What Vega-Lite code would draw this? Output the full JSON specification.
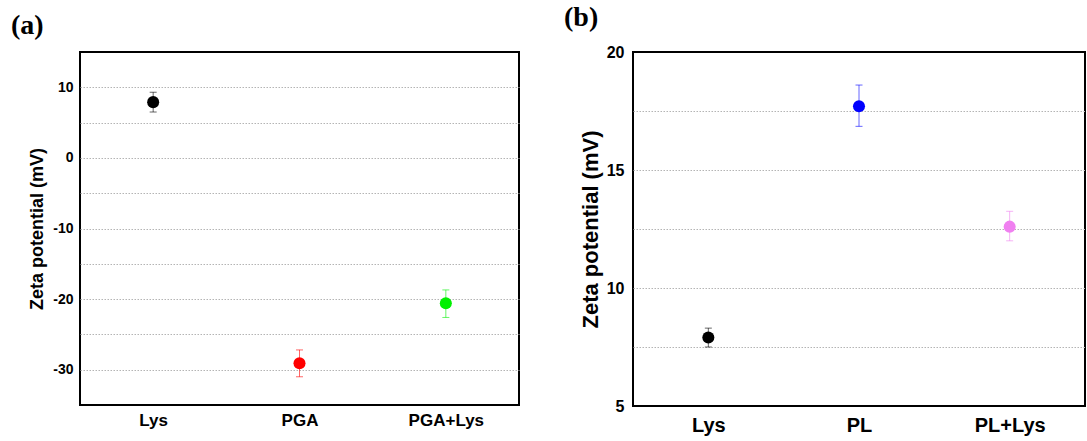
{
  "$schema": "https://vega.github.io/schema/vega-lite/v6.json",
  "padding": {"left": 10, "top": 3, "right": 0, "bottom": 0},
  "background": "white",
  "spacing": 114,
  "bounds": "flush",
  "resolve": {"scale": {"color": "independent", "y": "independent", "x": "independent"}},
  "config": {
    "view": {"stroke": "black", "strokeWidth": 2},
    "font": "Liberation Sans",
    "axis": {"labelFont": "Liberation Sans", "labelFontWeight": "bold", "labelColor": "black", "titleFont": "Liberation Sans", "titleFontWeight": "bold", "titleColor": "black", "domain": false, "ticks": false},
    "title": {"font": "Liberation Serif", "fontWeight": "bold", "fontSize": 28, "color": "black", "anchor": "start", "frame": "group", "dx": -69, "offset": 12}
  },
  "datasets": {
    "a": [
      {"sample": "Lys", "mean": 7.9, "lo": 6.5, "hi": 9.3},
      {"sample": "PGA", "mean": -29.1, "lo": -31.0, "hi": -27.2},
      {"sample": "PGA+Lys", "mean": -20.6, "lo": -22.6, "hi": -18.7}
    ],
    "b": [
      {"sample": "Lys", "mean": 7.9, "lo": 7.5, "hi": 8.3},
      {"sample": "PL", "mean": 17.7, "lo": 16.85, "hi": 18.6},
      {"sample": "PL+Lys", "mean": 12.6, "lo": 12.0, "hi": 13.25}
    ]
  },
  "hconcat": [
    {
      "title": "(a)",
      "width": 439,
      "height": 353,
      "data": {"name": "a"},
      "encoding": {
        "x": {"field": "sample", "type": "nominal", "sort": null, "scale": {"type": "point", "padding": 0.5}, "axis": {"title": null, "labelAngle": 0, "labelFontSize": 17, "labelPadding": 7, "grid": false}},
        "color": {"field": "sample", "type": "nominal", "sort": null, "scale": {"domain": ["Lys", "PGA", "PGA+Lys"], "range": ["#000000", "#ff0000", "#00f000"]}, "legend": null}
      },
      "layer": [
        {
          "mark": {"type": "rule", "strokeWidth": 1, "opacity": 0.6},
          "encoding": {
            "y": {"field": "lo", "type": "quantitative", "scale": {"domain": [-35, 15], "nice": false, "zero": false}, "axis": {"title": "Zeta potential (mV)", "values": [-30, -25, -20, -15, -10, -5, 0, 5, 10], "labelExpr": "datum.value % 10 === 0 ? '' + datum.value : ''", "grid": true, "gridDash": [1.5, 1.5], "gridColor": "#b4b4b4", "gridWidth": 1, "labelFontSize": 14, "labelPadding": 7, "titleFontSize": 18, "titlePadding": 6}},
            "y2": {"field": "hi"}
          }
        },
        {
          "mark": {"type": "tick", "thickness": 1, "size": 7, "opacity": 0.6},
          "encoding": {"y": {"field": "lo", "type": "quantitative", "title": "Zeta potential (mV)"}}
        },
        {
          "mark": {"type": "tick", "thickness": 1, "size": 7, "opacity": 0.6},
          "encoding": {"y": {"field": "hi", "type": "quantitative", "title": "Zeta potential (mV)"}}
        },
        {
          "mark": {"type": "circle", "size": 145, "opacity": 1},
          "encoding": {"y": {"field": "mean", "type": "quantitative", "title": "Zeta potential (mV)"}}
        }
      ]
    },
    {
      "title": "(b)",
      "width": 452,
      "height": 354,
      "data": {"name": "b"},
      "encoding": {
        "x": {"field": "sample", "type": "nominal", "sort": null, "scale": {"type": "point", "padding": 0.5}, "axis": {"title": null, "labelAngle": 0, "labelFontSize": 20, "labelPadding": 9, "grid": false}},
        "color": {"field": "sample", "type": "nominal", "sort": null, "scale": {"domain": ["Lys", "PL", "PL+Lys"], "range": ["#000000", "#0000ff", "#f080f0"]}, "legend": null}
      },
      "layer": [
        {
          "mark": {"type": "rule", "strokeWidth": 1, "opacity": 0.6},
          "encoding": {
            "y": {"field": "lo", "type": "quantitative", "scale": {"domain": [5, 20], "nice": false, "zero": false}, "axis": {"title": "Zeta potential (mV)", "values": [5, 7.5, 10, 12.5, 15, 17.5, 20], "labelExpr": "datum.value % 5 === 0 ? datum.label : ''", "grid": true, "gridDash": [1.5, 1.5], "gridColor": "#b4b4b4", "gridWidth": 1, "gridOpacity": {"condition": {"test": "datum.value === 5 || datum.value === 20", "value": 0}, "value": 1}, "labelFontSize": 16, "labelPadding": 9, "titleFontSize": 22, "titlePadding": 4}},
            "y2": {"field": "hi"}
          }
        },
        {
          "mark": {"type": "tick", "thickness": 1, "size": 7, "opacity": 0.6},
          "encoding": {"y": {"field": "lo", "type": "quantitative", "title": "Zeta potential (mV)"}}
        },
        {
          "mark": {"type": "tick", "thickness": 1, "size": 7, "opacity": 0.6},
          "encoding": {"y": {"field": "hi", "type": "quantitative", "title": "Zeta potential (mV)"}}
        },
        {
          "mark": {"type": "circle", "size": 145, "opacity": 1},
          "encoding": {"y": {"field": "mean", "type": "quantitative", "title": "Zeta potential (mV)"}}
        }
      ]
    }
  ]
}
